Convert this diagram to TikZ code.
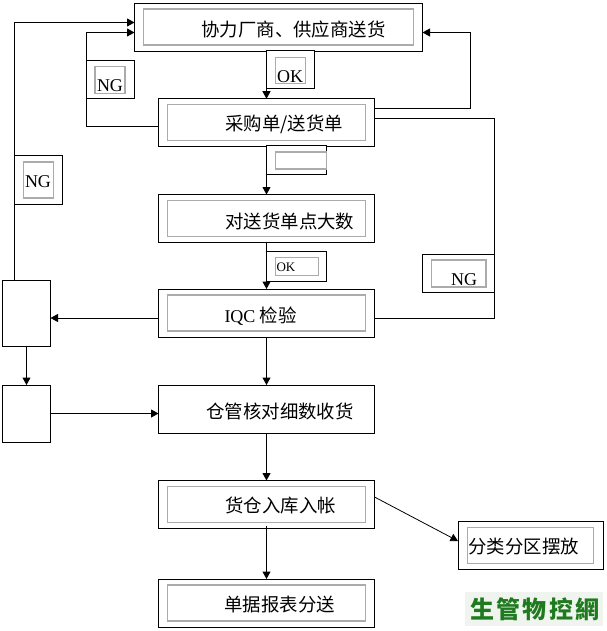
\documentclass[tikz,border=0pt]{standalone}
\usepackage{fontspec}
\setmainfont{Liberation Serif}
\newfontfamily\cjk{Noto Sans CJK SC}
\newfontfamily\cjkmark[LetterSpace=9]{Noto Sans CJK SC}
\usetikzlibrary{arrows.meta,positioning,calc}
\definecolor{rim}{HTML}{ABABAB}
\definecolor{markgreen}{HTML}{1F7A1F}
\definecolor{markbg}{HTML}{EFF5EE}
\begin{document}
\begin{tikzpicture}[x=1pt, y=-1pt, >={Stealth[inset=0pt,length=7.5pt,width=8pt]}, node distance=48pt,
  line width=1pt,
  outbox/.style={draw=black, fill=white, inner sep=0pt, outer sep=0pt, minimum width=216pt, minimum height=48pt},
  inbox/.style={draw=rim, line width=1.5pt, inner sep=0pt, outer sep=0pt, minimum width=198pt, minimum height=36pt},
  lab/.style={font=\fontsize{18.4}{20}\selectfont\cjk, inner sep=0pt, anchor=west},
  latin/.style={font=\fontsize{18}{20}\selectfont, inner sep=0pt},
  tag/.style={draw=black, fill=white, inner sep=0pt, outer sep=0pt},
  taginner/.style={draw=rim, line width=1.5pt, inner sep=0pt, outer sep=0pt}]
  \useasboundingbox (0,0) rectangle (606,631);
  \fill[white] (0,0) rectangle (606,631);
  % main column
  \node[outbox, minimum width=288pt] (sup) at (278.5,27.2) {};
  \node[outbox] (order) at (266.5,122.75) {};
  \node[outbox, below=47.75pt of order] (count) {};
  \node[outbox, below=46.5pt of count] (iqc) {};
  \node[outbox, below=48pt of iqc] (check) {};
  \node[outbox, below=47.5pt of check] (stock) {};
  \node[outbox, below=50.5pt of stock] (doc) {};
  \node[outbox, minimum width=145pt] (sort) at (530.5,545.5) {};
  % left boxes
  \node[tag, minimum width=48pt, minimum height=66pt] (hold) at (26.5,313) {};
  \node[tag, minimum width=48pt, minimum height=57pt] (back) at (26.5,413.5) {};
  % connectors
  \draw[->] (hold.north -| 14.5,0) -- (14.5,22.5) -- (sup.west |- 0,22.5);
  \draw[->] (order.west |- 0,127) -- (86.5,127) -- (86.5,32.5) -- (sup.west |- 0,32.5);
  \draw[->] (order.east |- 0,108.5) -- (470.5,108.5) -- (470.5,32.5) -- (sup.east |- 0,32.5);
  \draw (order.east |- 0,118.5) -- (494.5,118.5) -- (494.5,318) -- (iqc.east |- 0,318);
  \draw[->] (sup.south -| order) -- (order);
  \draw[->] (order) -- (count);
  \draw[->] (count) -- (iqc);
  \draw[->] (iqc) -- (check);
  \draw[->] (check) -- (stock);
  \draw[->] ([yshift=3pt]stock.south) -- (doc);
  \draw[->] (iqc.west |- 0,318) -- (hold.east |- 0,318);
  \draw[->] (hold) -- (back);
  \draw[->] (back) -- (check.west |- back);
  \draw[->, line width=.8pt] (stock.east |- 0,497) -- (sort.west |- 0,541);
  % inner frames
  \node[taginner, minimum width=270pt, minimum height=36pt] (supin) at (sup) {};
  \node[inbox] (orderin) at (order) {};
  \node[inbox] (countin) at (count) {};
  \node[inbox] (iqcin) at (iqc) {};
  \node[inbox] (stockin) at (stock) {};
  \node[inbox] (docin) at (doc) {};
  \node[taginner, minimum width=126pt, minimum height=36pt] (sortin) at (sort) {};
  % text
  \node[lab] (suptxt) at (201,30) {协力厂商、供应商送货};
  \node[lab] (ordertxt) at (225,124) {采购单/送货单};
  \node[lab] (counttxt) at (225,221) {对送货单点大数};
  \node[lab] (iqctxt) at (224,316) {{\fontsize{18}{20}\selectfont\rmfamily IQC} 检验};
  \node[lab] (checktxt) at (206,411) {仓管核对细数收货};
  \node[lab] (stocktxt) at (225,506) {货仓入库入帐};
  \node[lab] (doctxt) at (224,605) {单据报表分送};
  \node[lab] (sorttxt) at (468,547) {分类分区摆放};
  % tags
  \node[tag, minimum width=48pt, minimum height=38pt] (ok) at (290.5,70) {};
  \node[taginner, minimum width=30pt, minimum height=26pt] (okin) at (290.5,70.5) {};
  \node[latin] (oktxt) at (290,77) {OK};
  \node[tag, minimum width=60.5pt, minimum height=29pt] (blank) at (296.5,160.5) {};
  \node[taginner, minimum width=51pt, minimum height=17pt] (blankin) at (301,160.5) {};
  \node[tag, minimum width=60pt, minimum height=29.5pt] (ok2) at (296.5,266.3) {};
  \node[taginner, minimum width=43pt, minimum height=18pt] (ok2in) at (297,266.5) {};
  \node[latin, font=\fontsize{13}{15}\selectfont, anchor=west] (ok2txt) at (276,267) {OK};
  \node[tag, minimum width=48pt, minimum height=38pt] (ng1) at (110.5,80) {};
  \node[taginner, minimum width=30pt, minimum height=27pt] (ng1in) at (110,80) {};
  \node[latin] (ng1txt) at (110,86) {NG};
  \node[tag, minimum width=48pt, minimum height=48pt] (ng2) at (38.5,180) {};
  \node[taginner, minimum width=30pt, minimum height=36pt] (ng2in) at (38.5,180) {};
  \node[latin] (ng2txt) at (38,182) {NG};
  \node[tag, minimum width=72pt, minimum height=38pt] (ng3) at (458.5,273) {};
  \node[taginner, minimum width=54.5pt, minimum height=27pt] (ng3in) at (458.5,273.5) {};
  \node[latin] (ng3txt) at (464,280) {NG};
  % site mark
  \node[fill=markbg, inner sep=0pt, minimum width=138pt, minimum height=34pt] (markbox) at (534,609) {};
  \node[inner sep=0pt, text=markgreen, font=\fontsize{24}{26}\selectfont\bfseries\cjkmark] (marktxt) at (535,609) {生管物控網};
\end{tikzpicture}
\end{document}
